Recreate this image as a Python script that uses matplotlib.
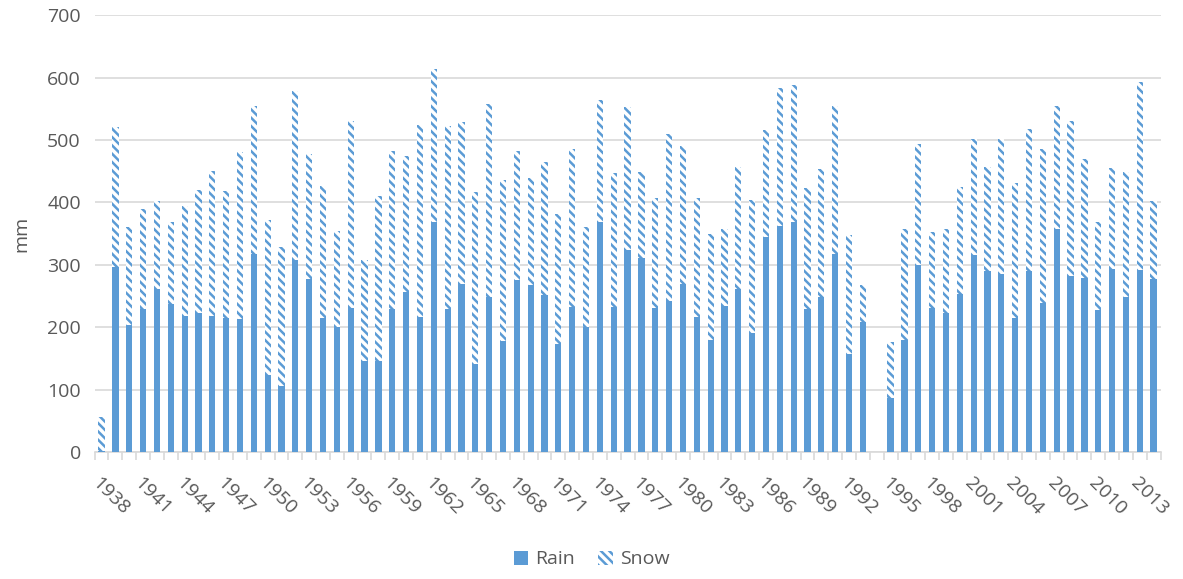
import numpy as np
import matplotlib
matplotlib.use("Agg")
import matplotlib.pyplot as plt

years = list(range(1938, 2015))

# rain part (mm), 1994 missing
rain = [2, 297, 203, 229, 261, 237, 218, 223, 218, 215,
        213, 317, 124, 106, 307, 278, 215, 201, 231, 146,
        146, 229, 257, 216, 369, 230, 270, 142, 248, 178,
        276, 268, 251, 173, 233, 200, 368, 232, 323, 311,
        231, 242, 269, 217, 180, 234, 261, 191, 345, 362,
        368, 229, 248, 317, 157, 209, np.nan, 87, 179, 300,
        231, 223, 254, 316, 290, 285, 215, 290, 239, 358,
        282, 279, 228, 293, 248, 292, 277]

# total (rain + snow)
total = [57, 520, 360, 390, 403, 368, 394, 420, 451, 418,
         481, 554, 372, 328, 578, 478, 426, 354, 530, 308,
         411, 483, 474, 524, 614, 523, 529, 416, 558, 436,
         483, 439, 464, 382, 485, 360, 564, 447, 552, 449,
         407, 509, 490, 407, 350, 357, 456, 404, 516, 583,
         588, 423, 454, 554, 347, 267, np.nan, 177, 357, 493,
         353, 357, 425, 502, 457, 502, 431, 518, 485, 555,
         530, 470, 369, 455, 449, 592, 403]

rain = np.array(rain, dtype=float)
snow = np.array(total, dtype=float) - rain
tick_years = years[::3]

blue = "#5B9BD5"
grey_txt = "#595959"
grid_c = "#D9D9D9"

plt.rcParams["font.family"] = ["Open Sans", "DejaVu Sans"]
plt.rcParams["hatch.linewidth"] = 1.8
plt.rcParams["hatch.color"] = blue

fig = plt.figure(figsize=(11.83, 5.79), dpi=100)
ax = fig.add_axes([0.080, 0.219, 0.901, 0.755])

x = np.arange(len(years))
w = 0.45
ax.bar(x, rain, w, color=blue, label="Rain", zorder=3)
ax.bar(x, snow, w, bottom=rain, facecolor="white", edgecolor=blue,
       linewidth=0, hatch="\\\\\\\\", label="Snow", zorder=3)

ax.set_xlim(-0.5, len(years) - 0.5)
ax.set_ylim(0, 700)
ax.set_yticks(range(0, 701, 100))
ax.yaxis.grid(True, color=grid_c, linewidth=1.2, zorder=0)
ax.tick_params(axis="y", length=0, labelsize=14, labelcolor=grey_txt, pad=10)
ax.set_ylabel("mm", fontsize=14, color=grey_txt, labelpad=12)

# category boundary ticks like the original
ax.set_xticks(np.arange(-0.5, len(years), 1))
ax.set_xticklabels([])
ax.tick_params(axis="x", which="major", length=6, color=grid_c, width=1.2)
ax.set_xticks([years.index(y) for y in tick_years], minor=True)
ax.set_xticklabels([str(y) for y in tick_years], minor=True,
                   rotation=-45, ha="left", va="top", rotation_mode="anchor")
ax.tick_params(axis="x", which="minor", length=0, labelsize=14,
               labelcolor=grey_txt, pad=16)

for s in ["top", "right", "left"]:
    ax.spines[s].set_visible(False)
ax.spines["bottom"].set_color(grid_c)
ax.spines["bottom"].set_linewidth(1.2)

fig.legend(loc="lower center", bbox_to_anchor=(0.5, -0.012), ncol=2, frameon=False,
           fontsize=14, labelcolor=grey_txt, handlelength=0.75, handleheight=0.75,
           handletextpad=0.35, columnspacing=1.2)

fig.savefig("out.png", dpi=100)
